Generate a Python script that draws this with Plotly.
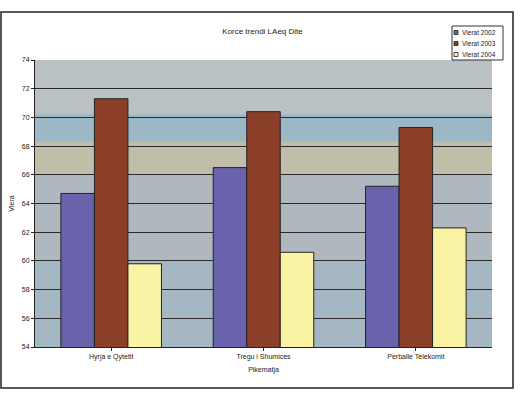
import plotly.graph_objects as go

# Measurement points and daytime LAeq levels per year
categories = ["Hyrja e Qytetit", "Tregu i Shumices", "Perballe Telekomit"]
years = ["Vlerat 2002", "Vlerat 2003", "Vlerat 2004"]
values_2002 = [64.7, 66.5, 65.2]
values_2003 = [71.3, 70.4, 69.3]
values_2004 = [59.8, 60.6, 62.3]
series = [values_2002, values_2003, values_2004]
colors = ["#6b62ad", "#8c3f28", "#fbf3a4"]
y_ticks = [54, 56, 58, 60, 62, 64, 66, 68, 70, 72, 74]

FONT = "Liberation Sans"
W, H = 525, 394
L, R, T, B = 35, 33, 60, 47
PW, PH = W - L - R, H - T - B


def px_x(x):
    return (x - L) / PW


def px_y(y):
    return (H - B - y) / PH


fig = go.Figure()
for name, vals, col in zip(years, series, colors):
    fig.add_trace(go.Bar(
        x=categories, y=vals, name=name,
        marker=dict(color=col, line=dict(color="#222222", width=1)),
    ))

# soft coloured banding behind the bars
bands = [
    (70.2, 74, "rgba(190,196,200,0.55)"),
    (68.3, 70.2, "rgba(120,175,205,0.40)"),
    (66.0, 68.3, "rgba(215,195,120,0.35)"),
    (60.0, 66.0, "rgba(170,180,188,0.45)"),
    (54.0, 60.0, "rgba(140,175,195,0.40)"),
]
for y0, y1, c in bands:
    fig.add_shape(type="rect", xref="paper", yref="y", x0=0, x1=1, y0=y0, y1=y1,
                  fillcolor=c, line=dict(width=0), layer="below")

# outer frame
fig.add_shape(type="rect", xref="paper", yref="paper",
              x0=px_x(1), x1=px_x(513), y0=px_y(388), y1=px_y(12),
              line=dict(color="#222222", width=1.5), fillcolor="rgba(0,0,0,0)")

# compact legend box
fig.add_shape(type="rect", xref="paper", yref="paper",
              x0=px_x(452), x1=px_x(503), y0=px_y(60), y1=px_y(26),
              line=dict(color="#333333", width=1), fillcolor="white")
for i, (name, col) in enumerate(zip(years, colors)):
    yc = 32.5 + i * 11
    fig.add_shape(type="rect", xref="paper", yref="paper",
                  x0=px_x(454), x1=px_x(458), y0=px_y(yc + 2), y1=px_y(yc - 2),
                  line=dict(color="#222222", width=0.8), fillcolor=col)
    fig.add_annotation(text=name, xref="paper", yref="paper",
                       x=px_x(460), y=px_y(yc), xanchor="left", yanchor="middle",
                       showarrow=False, font=dict(size=6.5, color="#222222"))

fig.update_layout(
    width=W, height=H,
    margin=dict(l=L, r=R, t=T, b=B, autoexpand=False),
    paper_bgcolor="white",
    plot_bgcolor="#b4bcc2",
    barmode="group", bargap=0.34, bargroupgap=0,
    font=dict(family=FONT, size=7, color="#222222"),
    title=dict(text="Korce trendi LAeq Dite", x=0.5, xanchor="center",
               y=1 - 31 / H, yanchor="middle", font=dict(size=8)),
    showlegend=False,
    xaxis=dict(title=dict(text="Pikematja", standoff=6, font=dict(size=7)),
               showline=True, linecolor="#222222", ticks="outside",
               tickcolor="#222222", ticklen=3, tickfont=dict(size=7),
               automargin=False),
    yaxis=dict(title=dict(text="Vlera", standoff=6, font=dict(size=7)),
               range=[54, 74], tickvals=y_ticks, showgrid=True,
               gridcolor="#2a2a2a", gridwidth=1, showline=True,
               linecolor="#222222", ticks="outside", tickcolor="#222222",
               ticklen=3, tickfont=dict(size=7), zeroline=False,
               automargin=False),
)

fig.write_html("out.html")
